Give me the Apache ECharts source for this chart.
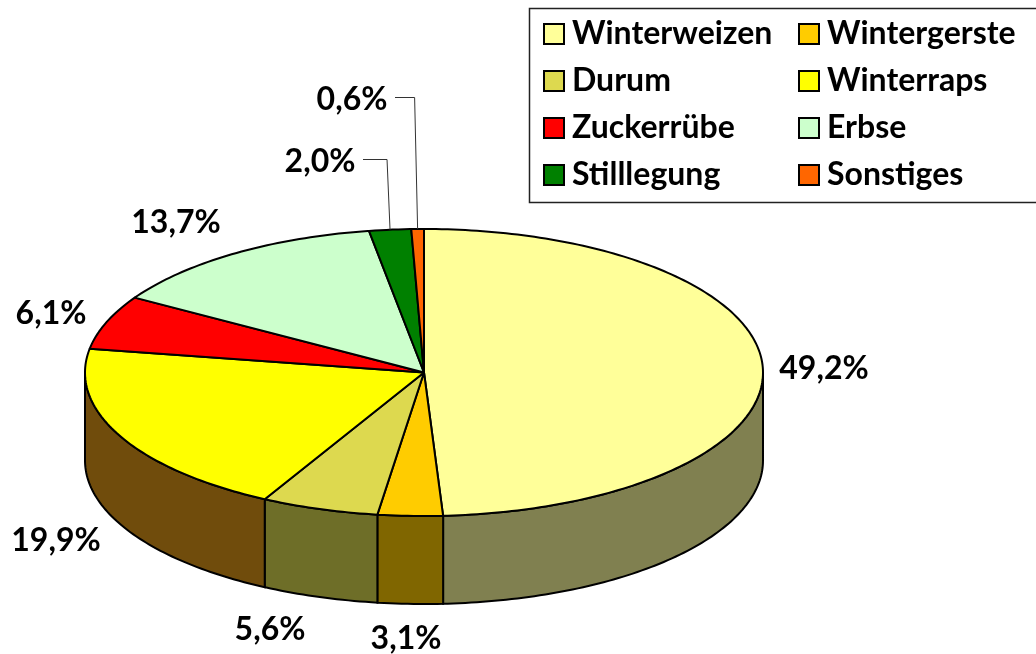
<!DOCTYPE html>
<html>
<head>
    <meta charset="utf-8">
    <title>Anbau</title>
    <script src="https://cdn.jsdelivr.net/npm/echarts@6/dist/echarts.min.js"></script>
    <style>
      html,body{margin:0;padding:0;background:#fff;}
      #main{width:1036px;height:654px;}
    </style>
</head>
<body>
    <div id="main"></div>
    <script>
    // data
    var categories = ['Winterweizen', 'Wintergerste', 'Durum', 'Winterraps', 'Zuckerrübe', 'Erbse', 'Stilllegung', 'Sonstiges'];
    var shares = [49.2, 3.1, 5.6, 19.9, 6.1, 13.7, 2.0, 0.6];

    // styles and layout
    var topColors = ['#FFFF99', '#FFCC00', '#DDD94F', '#FFFF00', '#FF0000', '#CCFFCC', '#008000', '#FF6600'];
    var wallColors = ['#808050', '#806600', '#6E6E28', '#704C0C', '#800000', '#668066', '#004000', '#803300'];
    var labelCenters = [[824, 369], [406, 639], [270, 630], [56, 541], [51, 314], [176, 223], [320, 162], [352, 100]];
    var labelFont = 'bold 32px Lato';
    var cx = 424, cy = 372.5, rx = 339, ry = 143.5, depth = 88;

    var total = shares.reduce(function (a, b) { return a + b; }, 0);

    // angle is clockwise from the top, in degrees
    function rim(deg, dy) {
        var r = deg * Math.PI / 180;
        return [cx + rx * Math.sin(r), cy - ry * Math.cos(r) + (dy || 0)];
    }
    function arc(from, to, dy) {
        var pts = [];
        for (var a = from; a < to; a += 1) pts.push(rim(a, dy));
        pts.push(rim(to, dy));
        return pts;
    }
    function startAngle(i) {
        var sum = 0;
        for (var k = 0; k < i; k++) sum += shares[k];
        return sum / total * 360;
    }

    function renderSlice(i) {
        return function () {
            var from = startAngle(i), to = startAngle(i + 1), children = [];
            // side wall only on the front half
            var wFrom = Math.max(from, 90), wTo = Math.min(to, 270);
            if (wFrom < wTo) {
                children.push({
                    type: 'polygon',
                    shape: { points: arc(wFrom, wTo, 0).concat(arc(wFrom, wTo, depth).reverse()) },
                    style: { fill: wallColors[i], stroke: '#000', lineWidth: 2 }
                });
            }
            children.push({
                type: 'polygon',
                shape: { points: [[cx, cy]].concat(arc(from, to, 0)) },
                style: { fill: topColors[i], stroke: '#000', lineWidth: 2, lineJoin: 'round' }
            });
            var pos = labelCenters[i];
            children.push({
                type: 'text',
                style: {
                    text: shares[i].toFixed(1).replace('.', ',') + '%',
                    x: pos[0], y: pos[1], align: 'center', verticalAlign: 'middle',
                    font: labelFont, fill: '#000'
                }
            });
            // the two thin slices get a leader line
            if (shares[i] <= 2) {
                var p = rim((from + to) / 2, 0);
                children.push({
                    type: 'polyline',
                    shape: { points: [[pos[0] + 43, pos[1] - 2.5], [p[0] - 3, pos[1] - 2.5], [p[0], p[1]]] },
                    style: { fill: 'none', stroke: '#333', lineWidth: 1 }
                });
            }
            return { type: 'group', children: children };
        };
    }

    var series = categories.map(function (name, i) {
        return {
            name: name,
            type: 'custom',
            coordinateSystem: 'none',
            silent: true,
            itemStyle: { color: topColors[i] },
            data: [shares[i]],
            renderItem: renderSlice(i)
        };
    });

    function legendColumn(left, indexes) {
        return {
            orient: 'vertical',
            left: left,
            top: 13,
            itemWidth: 20,
            itemHeight: 20,
            itemGap: 15,
            icon: 'rect',
            selectedMode: false,
            textStyle: { fontFamily: 'Lato', fontWeight: 'bold', fontSize: 32, lineHeight: 20, color: '#000', padding: [0, 0, 0, 3] },
            data: indexes.map(function (k) {
                return { name: categories[k], itemStyle: { color: topColors[k], borderColor: '#000', borderWidth: 2 } };
            })
        };
    }

    var chart = echarts.init(document.getElementById('main'));
    chart.setOption({
        animation: false,
        backgroundColor: '#fff',
        legend: [legendColumn(538, [0, 2, 4, 6]), legendColumn(793, [1, 3, 5, 7])],
        graphic: [{
            type: 'rect',
            shape: { x: 529.5, y: 8.5, width: 520, height: 194 },
            style: { fill: 'none', stroke: '#222', lineWidth: 1.5 }
        }],
        series: series
    });
    </script>
</body>
</html>
